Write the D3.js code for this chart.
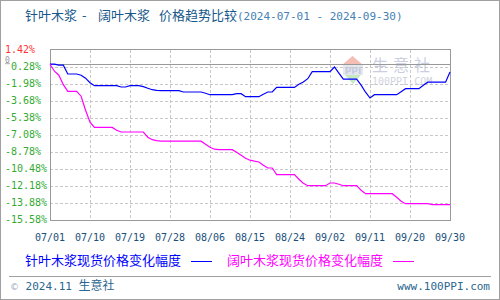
<!DOCTYPE html>
<html lang="zh">
<head>
<meta charset="utf-8">
<title>针叶木浆 - 阔叶木浆 价格趋势比较</title>
<script src="https://d3js.org/d3.v7.min.js"></script>
<style>
    body { margin: 0; background: #fff; }
    svg { display: block; }
    .mono { font-family: "DejaVu Sans Mono", "Liberation Mono", monospace; }
    .cjk { font-family: "Noto Sans CJK SC", sans-serif; }
</style>
</head>
<body>
<svg id="chart" width="500" height="300"></svg>
<script>
// day index 0 = 07/01 ... 90 = 09/30
var xTicks = [0, 9, 18, 27, 36, 45, 54, 63, 72, 81, 90];
var xLabels = ["07/01", "07/10", "07/19", "07/28", "08/06", "08/15", "08/24", "09/02", "09/11", "09/20", "09/30"];

var yTicks = [-15.58, -13.88, -12.18, -10.48, -8.78, -7.08, -5.38, -3.68, -1.98, -0.28, 1.42];
var yLabels = ["-15.58%", "-13.88%", "-12.18%", "-10.48%", "-8.78%", "-7.08%", "-5.38%", "-3.68%", "-1.98%", "0.28%", "1.42%"];

var seriesNames = ["针叶木浆现货价格变化幅度", "阔叶木浆现货价格变化幅度"];

// 针叶木浆 daily change (%)
var softwood = [
    0, 0, -0.1, -0.1, -0.98, -0.98, -0.98, -1.1, -1.4, -1.85,
    -2.15, -2.15, -2.15, -2.15, -2.15, -2.15, -2.28, -2.28, -2.15, -2.15,
    -2.15, -2.25, -2.4, -2.55, -2.62, -2.65, -2.65, -2.65, -2.65, -2.65,
    -2.78, -2.78, -2.78, -2.78, -2.78, -2.9, -3.05, -3.05, -3.05, -3.05,
    -3.05, -3.05, -2.95, -2.95, -3.25, -3.25, -3.25, -3.25, -3.0, -2.78,
    -2.78, -2.32, -2.32, -2.32, -2.32, -2.32, -2.0, -1.78, -1.45, -0.75,
    -0.75, -0.75, -0.75, -0.75, -0.28, -0.9, -1.5, -1.5, -1.5, -1.5,
    -2.1, -2.8, -3.38, -3.05, -3.05, -3.05, -3.05, -3.05, -3.05, -2.75,
    -2.45, -2.45, -2.45, -2.45, -2.1, -1.8, -1.8, -1.8, -1.8, -1.8,
    -0.78
];

// 阔叶木浆 daily change (%)
var hardwood = [
    0, -0.7, -1.1, -2.05, -2.72, -2.72, -2.72, -3.2, -4.6, -5.8,
    -6.32, -6.32, -6.32, -6.32, -6.32, -6.6, -6.78, -6.78, -6.78, -6.78,
    -6.78, -6.78, -7.3, -7.55, -7.65, -7.7, -7.7, -7.7, -7.7, -7.7,
    -7.7, -7.7, -7.7, -7.7, -7.7, -8.0, -8.3, -8.5, -8.55, -8.55,
    -8.55, -8.55, -8.8, -9.1, -9.4, -9.6, -9.7, -9.78, -10.1, -10.38,
    -10.38, -11.05, -11.05, -11.05, -11.05, -11.05, -11.5, -11.9, -12.15, -12.15,
    -12.15, -12.15, -12.15, -11.88, -11.88, -12.0, -12.15, -12.15, -12.15, -12.15,
    -12.6, -12.95, -12.95, -12.95, -12.95, -12.95, -12.95, -12.95, -13.3, -13.7,
    -13.95, -13.95, -13.95, -13.95, -13.95, -13.95, -14.05, -14.05, -14.05, -14.05,
    -14.05
];

var colors = ["#0000ff", "#ff00ff"];

var svg = d3.select("#chart");
var plotLeft = 50, plotRight = 450, plotTop = 50, plotBottom = 220;

var x = d3.scaleLinear().domain([0, 90]).range([plotLeft, plotRight]);
var y = d3.scaleLinear().domain([-15.58, 1.42]).range([plotBottom, plotTop]);

// outer frame
svg.append("rect")
    .attr("x", 0.5).attr("y", 0.5)
    .attr("width", 499).attr("height", 299)
    .attr("fill", "#fff").attr("stroke", "#a0a0a0");

// title
var titleParts = [
    { t: "针叶木浆", x: 25 },
    { t: "-", x: 82 },
    { t: "阔叶木浆", x: 98 },
    { t: "价格趋势比较", x: 159 }
];
svg.append("g").selectAll("text")
    .data(titleParts)
    .enter().append("text")
    .attr("class", "cjk")
    .attr("x", function(d) { return d.x; })
    .attr("y", 20)
    .attr("font-size", 13)
    .attr("fill", "#17588a")
    .text(function(d) { return d.t; });
svg.append("text")
    .attr("class", "mono")
    .attr("x", 237).attr("y", 19.5)
    .attr("font-size", 11)
    .attr("fill", "#4581b3")
    .text("(2024-07-01 - 2024-09-30)");

// watermark
var wm = svg.append("g").attr("opacity", 0.45);
wm.append("path").attr("d", "M342,65 L352.5,56 L363,65 Z").attr("fill", "#e8705a");
wm.append("rect").attr("x", 343).attr("y", 65).attr("width", 20).attr("height", 10).attr("fill", "#c8cde0");
wm.append("text").attr("x", 353).attr("y", 74).attr("text-anchor", "middle")
    .attr("font-size", 9).attr("font-weight", "bold").attr("fill", "#7f8fb8")
    .attr("font-family", "DejaVu Sans").text("PPI");
wm.append("path").attr("d", "M345,75 L361,75 L353,84 Z").attr("fill", "#7fd07f");
wm.append("text").attr("class", "cjk").attr("x", 372).attr("y", 71)
    .attr("font-size", 16).attr("letter-spacing", 5).attr("fill", "#8a96bd").text("生意社");
wm.append("text").attr("class", "mono").attr("x", 372).attr("y", 85)
    .attr("font-size", 10).attr("fill", "#9aa0b8").text("100PPI.COM");

// grid
var grid = svg.append("g")
    .attr("stroke", "#c8c8c8")
    .attr("stroke-dasharray", "3,2")
    .attr("shape-rendering", "crispEdges");

grid.selectAll("line.v")
    .data(xTicks.slice(1, -1))
    .enter().append("line")
    .attr("x1", function(d) { return Math.round(x(d)) + 0.5; })
    .attr("x2", function(d) { return Math.round(x(d)) + 0.5; })
    .attr("y1", plotTop).attr("y2", plotBottom);

grid.selectAll("line.h")
    .data(yTicks.slice(1, -1))
    .enter().append("line")
    .attr("x1", plotLeft).attr("x2", plotRight)
    .attr("y1", function(d) { return Math.round(y(d)) + 0.5; })
    .attr("y2", function(d) { return Math.round(y(d)) + 0.5; });

// zero line
svg.append("line")
    .attr("x1", plotLeft).attr("x2", plotRight)
    .attr("y1", Math.round(y(0)) + 0.5).attr("y2", Math.round(y(0)) + 0.5)
    .attr("stroke", "#999").attr("shape-rendering", "crispEdges");

// plot border
svg.append("rect")
    .attr("x", plotLeft + 0.5).attr("y", plotTop - 0.5)
    .attr("width", plotRight - plotLeft).attr("height", plotBottom - plotTop + 1)
    .attr("fill", "none").attr("stroke", "#999")
    .attr("shape-rendering", "crispEdges");

// y labels
svg.append("g").selectAll("text")
    .data(yTicks)
    .enter().append("text")
    .attr("class", "mono")
    .attr("x", function(d, i) { return yLabels[i].charAt(0) === "-" || i === yTicks.length - 1 ? 5 : 11; })
    .attr("y", function(d) { return y(d) + 2.5; })
    .attr("font-size", 10)
    .attr("fill", function(d, i) { return i === yTicks.length - 1 ? "#ff3333" : "#33aa33"; })
    .text(function(d, i) { return yLabels[i]; });

// small zero marker next to the -0.28 label
svg.append("text")
    .attr("class", "mono")
    .attr("x", 5).attr("y", y(0) - 1)
    .attr("font-size", 8).attr("fill", "#999")
    .text("0");
svg.append("line")
    .attr("x1", 5).attr("x2", 10)
    .attr("y1", y(0) - 0.5).attr("y2", y(0) - 0.5)
    .attr("stroke", "#999").attr("stroke-width", 0.8);

// x labels
svg.append("g").selectAll("text")
    .data(xTicks)
    .enter().append("text")
    .attr("class", "mono")
    .attr("x", function(d) { return x(d); })
    .attr("y", 241)
    .attr("text-anchor", "middle")
    .attr("font-size", 10)
    .attr("fill", "#1a4f7a")
    .text(function(d, i) { return xLabels[i]; });

// lines
var line = d3.line()
    .x(function(d, i) { return x(i); })
    .y(function(d) { return y(d); });

svg.selectAll("path.series")
    .data([softwood, hardwood])
    .enter().append("path")
    .attr("class", "series")
    .attr("d", line)
    .attr("fill", "none")
    .attr("stroke", function(d, i) { return colors[i]; })
    .attr("stroke-width", 1.2);

// legend
var legendX = [25, 227];
var lg = svg.append("g").selectAll("g")
    .data(seriesNames)
    .enter().append("g");
lg.append("text")
    .attr("class", "cjk")
    .attr("x", function(d, i) { return legendX[i]; })
    .attr("y", 265)
    .attr("font-size", 13)
    .attr("fill", function(d, i) { return colors[i]; })
    .text(function(d) { return d; });
lg.append("line")
    .attr("x1", function(d, i) { return legendX[i] + 166; })
    .attr("x2", function(d, i) { return legendX[i] + 187; })
    .attr("y1", 261.5).attr("y2", 261.5)
    .attr("stroke", function(d, i) { return colors[i]; });

// footer
svg.append("line")
    .attr("x1", 9).attr("x2", 491)
    .attr("y1", 276.5).attr("y2", 276.5)
    .attr("stroke", "#a0a0a0");
var foot = svg.append("text").attr("x", 10).attr("y", 290).attr("fill", "#2a6690");
foot.append("tspan").attr("font-size", 9).attr("fill", "#9ab").attr("font-family", "DejaVu Sans").text("©");
foot.append("tspan").attr("class", "mono").attr("font-size", 11).text(" 2024.11 ");
foot.append("tspan").attr("class", "cjk").attr("font-size", 12).text("生意社");
svg.append("text")
    .attr("class", "mono")
    .attr("x", 490).attr("y", 290)
    .attr("text-anchor", "end")
    .attr("font-size", 11)
    .attr("fill", "#2a6690")
    .text("www.100PPI.com");
</script>
</body>
</html>
